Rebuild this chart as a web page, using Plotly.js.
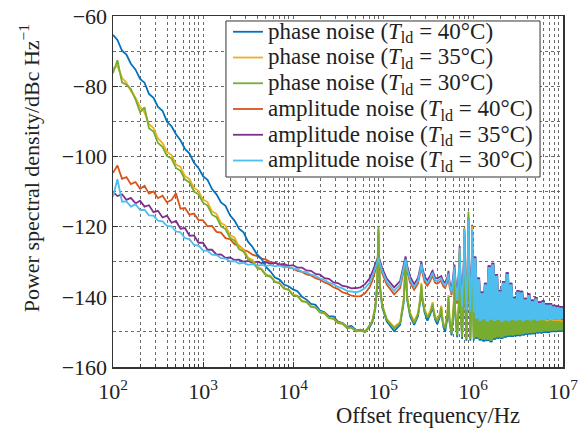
<!DOCTYPE html>
<html>
<head>
<meta charset="utf-8">
<script src="https://cdn.plot.ly/plotly-3.0.1.min.js"></script>
<style>html,body{margin:0;padding:0;background:#fff;}#chart{width:584px;height:429px;}</style>
</head>
<body>
<div id="chart"></div>
<script>
// Frequency grids (Hz)
var F_LOW = [100, 112, 126, 141, 158, 178, 200, 224, 251, 282, 316, 355, 398, 447, 501, 562, 631, 708, 794, 891,
  1000, 1122, 1259, 1413, 1585, 1778, 1995, 2239, 2512, 2818, 3162, 3548, 3981, 4467, 5012, 5623, 6310, 7079, 7943, 8913,
  10000, 11220, 12589, 14125, 15849, 17783, 19953, 22387, 25119, 28184, 31623, 35481, 39811, 44668, 50119, 56234, 63096, 70795];
var F_COMB = [76000, 82000, 86000, 89000, 92000, 98000, 110000, 133000, 155000, 170000, 178000, 186000, 200000, 222000,
  245000, 260000, 267000, 274000, 290000, 311000, 335000, 350000, 356000, 362000, 380000, 400000, 425000, 440000, 445000,
  450000, 468000, 490000, 520000, 534000, 548000, 578000, 612000, 623000, 634000, 667000, 702000, 712000, 722000, 756000,
  792000, 801000, 810000, 845000, 880000, 890000, 900000, 934000, 970000, 979000, 988000, 1020000];
var F_BAND = [1047000, 1096000, 1148000, 1202000, 1259000, 1318000, 1380000, 1445000, 1514000, 1585000, 1660000, 1738000,
  1820000, 1905000, 1995000, 2089000, 2188000, 2291000, 2399000, 2512000, 2630000, 2754000, 2884000, 3020000, 3162000,
  3311000, 3467000, 3631000, 3802000, 3981000, 4169000, 4365000, 4571000, 4786000, 5012000, 5248000, 5495000, 5754000,
  6026000, 6310000, 6607000, 6918000, 7244000, 7586000, 7943000, 8318000, 8710000, 9120000, 9550000, 10000000];

// Phase noise, T = 40 °C (dBc/Hz)
var PH40_LOW = [-65.4, -66.8, -69.9, -71.0, -73.6, -75.3, -77.9, -79.0, -82.2, -83.3, -85.9, -87.0, -90.1, -91.4, -93.7, -95.4, -97.9, -99.2, -101.8, -103.3,
  -105.6, -106.7, -109.3, -110.8, -113.1, -114.1, -116.8, -118.3, -120.6, -121.6, -124.3, -125.8, -127.9, -129.2, -131.5, -132.8, -134.5, -135.1, -136.5, -137.0,
  -137.9, -138.4, -140.0, -140.8, -142.0, -142.3, -143.9, -144.4, -145.6, -145.6, -147.1, -147.5, -148.5, -148.3, -149.6, -149.4, -149.8, -148.7];
var PH40_COMB = [-147.3, -143.5, -137.5, -121.5, -137.0, -143.0, -147.0, -149.8, -148.0, -141.5, -131.0, -141.0, -145.5, -148.0, -145.5, -141.0, -137.5, -141.0, -144.5, -146.8,
  -145.0, -143.5, -143.0, -144.0, -146.5, -147.8, -146.0, -144.0, -144.0, -145.5, -148.5, -150.0, -146.0, -141.5, -147.0, -151.0, -143.0, -135.5, -145.0, -151.5,
  -141.0, -128.5, -142.0, -152.0, -137.0, -122.5, -137.0, -152.5, -133.0, -117.5, -133.0, -152.5, -137.0, -122.5, -138.0, -152.5];
var PH40_BAND = [-140.5, -151.9, -143.5, -152.4, -144.0, -152.7, -144.0, -152.6, -143.0, -152.9, -143.0, -152.2, -144.5, -151.9, -144.5, -152.0, -145.0, -151.6, -145.0, -151.4,
  -146.0, -151.4, -146.5, -151.2, -146.0, -151.2, -146.0, -151.0, -146.8, -150.8, -146.5, -150.7, -147.0, -150.6, -146.8, -150.4, -147.3, -150.4, -147.1, -150.2,
  -147.5, -150.2, -147.3, -150.0, -147.5, -150.0, -147.5, -149.9, -147.7, -149.9];

// Phase noise, T = 35 °C
var PH35_LOW = [-75.0, -74.2, -77.6, -79.0, -81.4, -83.3, -85.9, -87.5, -90.8, -91.9, -94.9, -96.2, -98.7, -99.6, -102.3, -103.0, -105.6, -106.5, -109.0, -109.8,
  -112.3, -113.0, -115.6, -116.4, -119.0, -119.7, -122.4, -123.1, -125.7, -126.4, -128.8, -129.5, -131.4, -132.0, -133.6, -134.0, -135.6, -136.0, -137.5, -137.9,
  -139.3, -139.7, -141.1, -141.4, -142.7, -143.0, -144.3, -144.6, -145.9, -146.2, -147.3, -147.6, -148.7, -148.8, -149.7, -149.6, -149.9, -148.3];
var PH35_COMB = [-146.8, -142.8, -136.5, -120.8, -136.0, -142.3, -146.3, -148.6, -147.2, -140.5, -129.8, -140.0, -144.5, -147.0, -144.6, -140.0, -136.0, -140.0, -143.5, -145.5,
  -144.0, -142.5, -141.5, -143.0, -145.5, -146.5, -145.0, -143.0, -142.5, -144.5, -147.5, -148.5, -144.5, -139.5, -146.0, -150.0, -141.5, -133.5, -143.5, -150.5,
  -139.5, -126.5, -140.5, -151.0, -135.5, -120.5, -135.5, -151.5, -131.5, -116.5, -131.5, -151.5, -135.5, -119.8, -136.5, -151.5];
var PH35_BAND = [-139.6, -151.1, -142.6, -151.6, -143.1, -151.9, -143.1, -151.8, -142.1, -152.1, -142.1, -151.4, -143.6, -151.1, -143.6, -151.2, -144.1, -150.8, -144.1, -150.6,
  -145.1, -150.6, -145.6, -150.4, -145.1, -150.4, -145.1, -150.2, -145.9, -150.0, -145.6, -149.9, -146.1, -149.8, -145.9, -149.6, -146.4, -149.6, -146.2, -149.4,
  -146.6, -149.4, -146.4, -149.2, -146.6, -149.2, -146.6, -149.1, -146.8, -149.1];

// Phase noise, T = 30 °C
var PH30_LOW = [-76.3, -72.6, -78.9, -79.6, -80.8, -83.8, -87.4, -86.0, -92.0, -92.9, -96.2, -97.3, -99.9, -100.6, -103.3, -104.1, -106.6, -107.4, -110.0, -110.8,
  -113.2, -114.0, -116.6, -117.3, -119.9, -120.7, -123.2, -124.0, -126.4, -127.1, -129.3, -130.0, -131.8, -132.3, -133.9, -134.3, -135.8, -136.2, -137.7, -138.0,
  -139.6, -139.8, -141.3, -141.5, -142.9, -143.1, -144.5, -144.7, -146.1, -146.3, -147.5, -147.7, -148.9, -148.8, -149.9, -149.5, -150.1, -148.4];
var PH30_COMB = [-147.0, -143.0, -137.0, -120.0, -136.5, -142.5, -146.5, -149.0, -147.5, -141.0, -129.5, -140.5, -145.0, -147.5, -145.0, -140.5, -136.5, -140.5, -144.0, -146.0,
  -144.5, -143.0, -142.0, -143.5, -146.0, -147.0, -145.5, -143.5, -143.0, -145.0, -148.0, -149.0, -145.0, -140.0, -146.5, -150.5, -142.0, -134.0, -144.0, -151.0,
  -140.0, -127.0, -141.0, -151.5, -136.0, -121.0, -136.0, -152.0, -132.0, -115.7, -132.0, -152.0, -136.0, -121.0, -137.0, -152.0];
var PH30_BAND = [-140.0, -151.5, -143.0, -152.0, -143.5, -152.3, -143.5, -152.2, -142.5, -152.5, -142.5, -151.8, -144.0, -151.5, -144.0, -151.6, -144.5, -151.2, -144.5, -151.0,
  -145.5, -151.0, -146.0, -150.8, -145.5, -150.8, -145.5, -150.6, -146.3, -150.4, -146.0, -150.3, -146.5, -150.2, -146.3, -150.0, -146.8, -150.0, -146.6, -149.8,
  -147.0, -149.8, -146.8, -149.6, -147.0, -149.6, -147.0, -149.5, -147.2, -149.5];

// Amplitude noise, T = 40 °C
var AM40_LOW = [-104.7, -102.6, -106.4, -105.9, -107.9, -107.3, -109.2, -108.4, -110.6, -110.0, -111.9, -111.2, -113.1, -112.4, -110.5, -114.9, -114.7, -116.6, -116.3, -118.1,
  -118.2, -119.9, -119.8, -121.5, -121.7, -123.3, -123.6, -125.0, -125.4, -126.6, -127.1, -128.0, -128.4, -129.1, -129.4, -130.1, -130.3, -130.9, -131.1, -131.7,
  -131.9, -132.6, -132.9, -133.6, -133.9, -134.7, -135.1, -135.9, -136.4, -137.3, -137.8, -138.7, -139.1, -139.7, -139.9, -139.8, -139.0, -137.3];
var AM40_COMB = [-135.5, -132.5, -130.5, -129.5, -130.8, -133.3, -136.5, -139.3, -137.5, -132.5, -130.0, -132.8, -136.0, -138.0, -136.2, -133.0, -131.3, -133.2, -135.8, -136.8,
  -135.5, -134.2, -134.0, -134.6, -136.0, -136.3, -135.8, -135.5, -135.4, -136.0, -137.0, -137.5, -135.8, -134.0, -137.0, -139.5, -134.5, -132.2, -135.5, -142.0,
  -132.5, -127.0, -134.0, -143.5, -130.5, -122.0, -130.5, -144.5, -128.0, -119.0, -128.0, -145.0, -130.5, -122.0, -131.0, -145.0];
var AM40_BAND = [-129.5, -146.8, -135.5, -147.3, -139.5, -147.0, -137.0, -147.5, -132.0, -147.1, -131.3, -147.4, -134.5, -147.2, -139.0, -147.6, -136.5, -147.3, -134.0, -147.4,
  -137.0, -147.0, -141.0, -147.3, -139.0, -147.1, -139.3, -147.3, -141.0, -147.0, -139.8, -147.2, -141.3, -146.9, -140.6, -147.2, -141.6, -147.0, -141.2, -147.1,
  -142.0, -146.8, -141.9, -147.0, -142.4, -146.8, -142.6, -147.0, -142.8, -146.8];

// Amplitude noise, T = 35 °C
var AM35_LOW = [-110.1, -111.3, -110.8, -112.4, -111.8, -113.4, -112.6, -114.3, -113.9, -115.9, -115.5, -117.4, -116.9, -118.9, -118.4, -120.6, -120.4, -122.6, -122.5, -124.6,
  -124.6, -126.6, -126.6, -128.0, -127.9, -128.9, -128.8, -129.5, -129.4, -130.0, -129.8, -130.3, -130.0, -130.4, -130.1, -130.6, -130.3, -130.8, -130.6, -131.2,
  -131.0, -131.7, -131.7, -132.5, -132.6, -133.5, -133.7, -134.7, -134.9, -135.9, -136.1, -136.9, -137.1, -137.6, -137.5, -137.3, -136.4, -134.8];
var AM35_COMB = [-133.0, -130.8, -129.2, -128.3, -129.5, -131.8, -134.8, -137.3, -135.5, -131.0, -128.5, -131.2, -134.3, -136.4, -134.6, -131.6, -130.0, -131.8, -134.3, -135.3,
  -134.0, -132.8, -132.6, -133.2, -134.6, -134.8, -134.3, -134.0, -134.1, -134.6, -135.6, -136.0, -134.4, -132.6, -135.6, -138.0, -133.0, -130.8, -134.0, -140.5,
  -131.0, -125.5, -132.5, -142.0, -129.0, -120.5, -129.0, -143.0, -126.5, -117.5, -126.5, -143.5, -129.0, -119.5, -129.5, -143.5];
var AM35_BAND = [-128.5, -146.0, -134.5, -146.5, -138.5, -146.2, -136.0, -146.7, -131.0, -146.3, -130.3, -146.6, -133.5, -146.4, -138.0, -146.8, -135.5, -146.5, -133.0, -146.6,
  -136.0, -146.3, -140.0, -146.5, -138.1, -146.4, -138.3, -146.6, -140.3, -146.3, -139.0, -146.5, -140.8, -146.2, -140.1, -146.5, -141.3, -146.3, -141.0, -146.4,
  -141.8, -146.1, -141.8, -146.4, -142.3, -146.2, -142.5, -146.3, -142.7, -146.1];

// Amplitude noise, T = 30 °C
var AM30_LOW = [-111.5, -106.5, -112.9, -112.8, -114.3, -113.6, -115.3, -115.2, -116.8, -116.9, -118.3, -118.5, -119.8, -119.9, -121.4, -121.6, -123.3, -123.6, -125.2, -125.4,
  -126.8, -126.9, -128.0, -128.1, -129.0, -129.1, -129.9, -129.8, -130.5, -130.3, -130.9, -130.7, -131.1, -130.9, -131.2, -131.0, -131.3, -131.1, -131.6, -131.5,
  -132.0, -132.2, -132.8, -133.0, -133.7, -134.0, -134.8, -135.2, -136.0, -136.4, -137.2, -137.6, -138.3, -138.4, -138.7, -138.3, -137.5, -136.0];
var AM30_COMB = [-134.3, -131.8, -130.0, -129.0, -130.3, -132.6, -135.7, -138.3, -136.5, -131.8, -129.3, -132.0, -135.2, -137.2, -135.4, -132.3, -130.7, -132.5, -135.0, -136.0,
  -134.8, -133.5, -133.3, -133.9, -135.3, -135.5, -135.0, -134.7, -134.8, -135.3, -136.3, -136.8, -135.0, -133.3, -136.3, -138.8, -133.8, -131.5, -134.8, -141.2,
  -131.8, -126.0, -133.3, -142.8, -129.8, -121.0, -129.8, -143.8, -127.3, -118.0, -127.3, -144.3, -129.8, -121.0, -130.3, -144.5];
var AM30_BAND = [-129.0, -146.2, -135.0, -146.8, -139.0, -146.4, -136.5, -147.0, -131.5, -146.5, -130.8, -146.9, -134.0, -146.6, -138.5, -147.1, -136.0, -146.7, -133.5, -146.9,
  -136.5, -146.5, -140.5, -146.8, -138.6, -146.6, -138.8, -146.9, -140.8, -146.5, -139.5, -146.7, -141.3, -146.4, -140.6, -146.8, -141.8, -146.5, -141.5, -146.6,
  -142.3, -146.3, -142.3, -146.6, -142.8, -146.4, -143.0, -146.5, -143.2, -146.3];

var X_TICKS = [100, 1000, 10000, 100000, 1000000, 10000000];
var X_TICK_TEXT = ['10<sup>2</sup>', '10<sup>3</sup>', '10<sup>4</sup>', '10<sup>5</sup>', '10<sup>6</sup>', '10<sup>7</sup>'];

var FREQ = F_LOW.concat(F_COMB, F_BAND);
var FONT = 'Liberation Serif, Times New Roman, serif';

var data = [];
function add(name, lo, co, ba, color, rank) {
  var grp = 'g' + rank;
  data.push({
    type: 'scatter', mode: 'lines', name: '<span style="font-size:23px">' + name + '</span>',
    x: FREQ, y: lo.concat(co, ba),
    line: {color: color, width: 1.8},
    legendrank: rank, legendgroup: grp
  });
  // the dense comb above 1 MHz, drawn with a wider pen so it reads as a solid band
  data.push({
    type: 'scatter', mode: 'lines', showlegend: false, legendgroup: grp,
    x: F_BAND, y: ba,
    line: {color: color, width: 3.4}
  });
}
var T = '(<i>T</i><sub>ld</sub> = ';
add('amplitude noise ' + T + '40°C)', AM40_LOW, AM40_COMB, AM40_BAND, '#D95319', 4);
add('amplitude noise ' + T + '35°C)', AM35_LOW, AM35_COMB, AM35_BAND, '#7E2F8E', 5);
add('phase noise ' + T + '40°C)', PH40_LOW, PH40_COMB, PH40_BAND, '#0072BD', 1);
add('phase noise ' + T + '35°C)', PH35_LOW, PH35_COMB, PH35_BAND, '#EDB120', 2);
add('phase noise ' + T + '30°C)', PH30_LOW, PH30_COMB, PH30_BAND, '#77AC30', 3);
add('amplitude noise ' + T + '30°C)', AM30_LOW, AM30_COMB, AM30_BAND, '#4DBEEE', 6);

// plot area: 113..563 px wide, 16..367 px tall
var layout = {
  width: 584, height: 429,
  margin: {l: 113, r: 21, t: 16, b: 62},
  paper_bgcolor: '#fff', plot_bgcolor: '#fff',
  font: {family: FONT, size: 22, color: '#222'},
  showlegend: true,
  legend: {
    x: 0.2555, y: 1.006, xanchor: 'left', yanchor: 'top',
    bgcolor: 'rgba(0,0,0,0)', borderwidth: 0,
    font: {family: FONT, size: 17.5, color: '#222'},
    tracegroupgap: 0
  },
  shapes: [
    // legend frame (white panel with dark border)
    {type: 'rect', xref: 'paper', yref: 'paper', x0: 0.251, x1: 0.949, y0: 0.5413, y1: 0.9858,
     line: {color: '#333', width: 1}, fillcolor: '#fff', layer: 'above'}
  ],
  xaxis: {
    type: 'log', range: [2, 7],
    tickmode: 'array', tickvals: X_TICKS, ticktext: X_TICK_TEXT,
    showline: true, mirror: true, linecolor: '#333', linewidth: 1.5,
    ticks: 'inside', ticklen: 5, tickcolor: '#333', ticklabelstandoff: 4,
    showgrid: true, gridcolor: '#6a6a6a', griddash: 'dot', gridwidth: 1, zeroline: false,
    tickfont: {family: FONT, size: 22, color: '#222'},
    minor: {dtick: 'D1', showgrid: true, gridcolor: '#6a6a6a', griddash: 'dot', gridwidth: 1, ticks: 'inside', ticklen: 3, tickcolor: '#333'}
  },
  yaxis: {
    range: [-160, -60], tick0: -160, dtick: 20,
    showline: true, mirror: true, linecolor: '#333', linewidth: 1.5,
    ticks: 'inside', ticklen: 5, tickcolor: '#333',
    showgrid: true, gridcolor: '#6a6a6a', griddash: 'dot', gridwidth: 1, zeroline: false,
    tickfont: {family: FONT, size: 22, color: '#222'},
    minor: {dtick: 10, showgrid: true, gridcolor: '#6a6a6a', griddash: 'dot', gridwidth: 1}
  },
  annotations: [
    {text: 'Offset frequency/Hz', xref: 'paper', yref: 'paper', x: 0.909, y: -0.137,
     xanchor: 'right', yanchor: 'middle', showarrow: false, font: {family: FONT, size: 22.5, color: '#222'}},
    {text: 'Power spectral density/dBc Hz<sup>−1</sup>', xref: 'paper', yref: 'paper', x: -0.186, y: 0.567,
     xanchor: 'center', yanchor: 'middle', textangle: -90, showarrow: false, font: {family: FONT, size: 22, color: '#222'}}
  ]
};
Plotly.newPlot('chart', data, layout, {staticPlot: true, displayModeBar: false});
</script>
</body>
</html>
